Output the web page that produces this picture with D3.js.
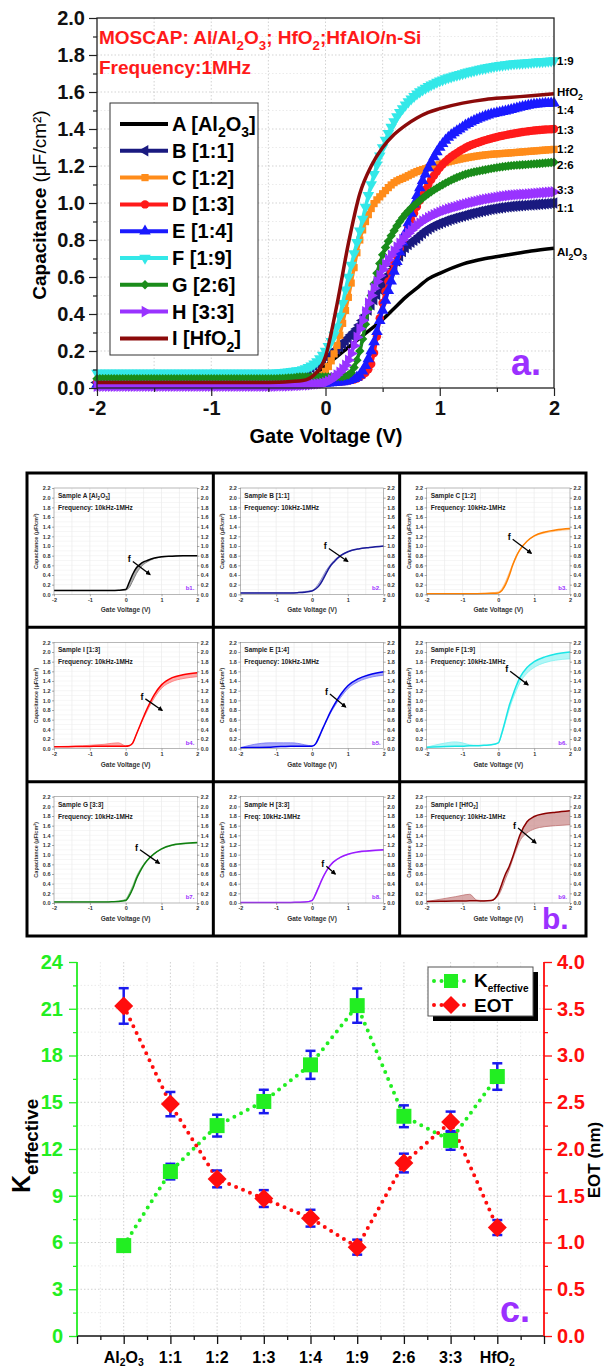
<!DOCTYPE html>
<html>
<head>
<meta charset="utf-8">
<script src="https://cdn.jsdelivr.net/npm/d3@7"></script>
<style>
  body { margin: 0; background: #fff; }
  svg { display: block; font-family: Arial, "Liberation Sans", sans-serif; }
</style>
</head>
<body>
<script>
// ---------- panel a : C-V at 1 MHz ----------
var voltA = [-2, -1, -0.5, -0.3, -0.2, -0.1, 0, 0.1, 0.2, 0.3, 0.4, 0.5, 0.6, 0.7, 0.8, 0.9, 1.0, 1.2, 1.4, 1.6, 1.8, 2.0];
var capA = [0.02, 0.02, 0.025, 0.03, 0.04, 0.07, 0.12, 0.17, 0.22, 0.27, 0.32, 0.37, 0.43, 0.49, 0.54, 0.59, 0.62, 0.67, 0.70, 0.72, 0.74, 0.755];
var capB = [0.03, 0.03, 0.035, 0.05, 0.08, 0.12, 0.17, 0.21, 0.27, 0.34, 0.45, 0.56, 0.66, 0.76, 0.81, 0.86, 0.89, 0.93, 0.96, 0.98, 0.99, 1.0];
var capC = [0.02, 0.02, 0.02, 0.025, 0.03, 0.04, 0.09, 0.23, 0.49, 0.8, 0.97, 1.05, 1.11, 1.14, 1.17, 1.19, 1.21, 1.24, 1.26, 1.27, 1.28, 1.29];
var capD = [0.03, 0.03, 0.03, 0.03, 0.03, 0.03, 0.03, 0.035, 0.04, 0.06, 0.13, 0.46, 0.67, 0.83, 0.98, 1.1, 1.19, 1.29, 1.34, 1.37, 1.39, 1.40];
var capE = [0.02, 0.02, 0.02, 0.02, 0.02, 0.02, 0.025, 0.03, 0.04, 0.07, 0.2, 0.42, 0.63, 0.84, 1.04, 1.19, 1.3, 1.41, 1.47, 1.5, 1.53, 1.54];
var capF = [0.08, 0.08, 0.08, 0.09, 0.1, 0.13, 0.2, 0.33, 0.6, 0.85, 1.1, 1.3, 1.44, 1.53, 1.59, 1.63, 1.66, 1.7, 1.73, 1.75, 1.76, 1.77];
var capG = [0.05, 0.05, 0.05, 0.055, 0.06, 0.06, 0.06, 0.06, 0.07, 0.2, 0.5, 0.72, 0.85, 0.94, 1.0, 1.05, 1.09, 1.15, 1.18, 1.2, 1.21, 1.22];
var capH = [0.01, 0.01, 0.01, 0.012, 0.015, 0.02, 0.03, 0.07, 0.15, 0.32, 0.5, 0.64, 0.74, 0.82, 0.88, 0.92, 0.95, 0.99, 1.02, 1.04, 1.05, 1.06];
var capI = [0.03, 0.03, 0.03, 0.035, 0.04, 0.07, 0.17, 0.45, 0.78, 1.05, 1.2, 1.3, 1.37, 1.42, 1.46, 1.49, 1.51, 1.54, 1.56, 1.57, 1.58, 1.59];

var seriesNames = ['A [Al2O3]', 'B [1:1]', 'C [1:2]', 'D [1:3]', 'E [1:4]', 'F [1:9]', 'G [2:6]', 'H [3:3]', 'I [HfO2]'];
var seriesColors = ['#000000', '#1a1a80', '#ff8c1a', '#ff1a1a', '#1a1aff', '#33e8e8', '#1a8c1a', '#9933ff', '#8b0a0a'];
var seriesMarkers = ['none', 'triL', 'square', 'circle', 'triU', 'triD', 'diamond', 'triR', 'none'];
var endLabels = ['Al2O3', '1:1', '1:2', '1:3', '1:4', '1:9', '2:6', '3:3', 'HfO2'];
var endLabelDy = [4, 5, 0, 1, 7, 0, 3, -2, -2];

// ---------- panel b : frequency dispersion ----------
var voltB = [-2, -1.6, -1.2, -1, -0.8, -0.6, -0.4, -0.2, 0, 0.1, 0.2, 0.3, 0.4, 0.5, 0.6, 0.8, 1.0, 1.3, 1.6, 2.0];
var sampleTitles = ['Sample A [Al2O3]', 'Sample B [1:1]', 'Sample C [1:2]', 'Sample I [1:3]', 'Sample E [1:4]',
  'Sample F [1:9]', 'Sample G [3:3]', 'Sample H [3:3]', 'Sample I [HfO2]'];
var sampleFreq = ['Frequency: 10kHz-1MHz', 'Frequency: 10kHz-1MHz', 'Frequency: 10kHz-1MHz', 'Frequency: 10kHz-1MHz',
  'Frequency: 10kHz-1MHz', 'Frequency: 10kHz-1MHz', 'Frequency: 10kHz-1MHz', 'Freq: 10kHz-1MHz', 'Frequency: 10kHz-1MHz'];
var sampleColors = ['#000000', '#1a1a99', '#ff8000', '#ff0000', '#0000ee', '#1ae6e6', '#0f800f', '#9a1aff', '#8b0000'];
var sampleLabels = ['b1.', 'b2.', 'b3.', 'b4.', 'b5.', 'b6.', 'b7.', 'b8.', 'b9.'];
var darkCurves = [
  [0.08, 0.08, 0.08, 0.08, 0.08, 0.08, 0.08, 0.085, 0.1, 0.25, 0.42, 0.55, 0.62, 0.67, 0.7, 0.75, 0.78, 0.79, 0.8, 0.8],
  [0.03, 0.03, 0.03, 0.03, 0.03, 0.03, 0.035, 0.045, 0.07, 0.11, 0.18, 0.3, 0.44, 0.57, 0.66, 0.8, 0.88, 0.94, 0.97, 1.0],
  [0.01, 0.01, 0.01, 0.01, 0.01, 0.012, 0.015, 0.02, 0.03, 0.08, 0.2, 0.38, 0.6, 0.78, 0.92, 1.1, 1.21, 1.29, 1.33, 1.36],
  [0.04, 0.04, 0.045, 0.045, 0.05, 0.05, 0.05, 0.05, 0.05, 0.06, 0.12, 0.3, 0.48, 0.66, 0.83, 1.12, 1.32, 1.47, 1.53, 1.57],
  [0.02, 0.025, 0.03, 0.04, 0.045, 0.05, 0.05, 0.05, 0.05, 0.1, 0.25, 0.42, 0.58, 0.74, 0.88, 1.12, 1.3, 1.45, 1.53, 1.59],
  [0.03, 0.04, 0.05, 0.05, 0.06, 0.06, 0.07, 0.08, 0.12, 0.33, 0.6, 0.88, 1.1, 1.3, 1.47, 1.68, 1.8, 1.9, 1.96, 2.0],
  [0.02, 0.02, 0.02, 0.02, 0.02, 0.02, 0.025, 0.03, 0.05, 0.15, 0.3, 0.5, 0.65, 0.78, 0.88, 1.02, 1.12, 1.2, 1.23, 1.25],
  [0.01, 0.01, 0.01, 0.01, 0.01, 0.01, 0.015, 0.02, 0.05, 0.18, 0.35, 0.52, 0.66, 0.77, 0.85, 0.95, 1.01, 1.06, 1.08, 1.1],
  [0.03, 0.035, 0.04, 0.04, 0.045, 0.045, 0.04, 0.05, 0.2, 0.4, 0.6, 0.75, 0.95, 1.18, 1.4, 1.68, 1.79, 1.85, 1.88, 1.91]
];
var lightCurves = [
  [0.08, 0.08, 0.08, 0.08, 0.08, 0.08, 0.08, 0.08, 0.09, 0.14, 0.28, 0.43, 0.54, 0.62, 0.67, 0.74, 0.77, 0.79, 0.8, 0.8],
  [0.03, 0.03, 0.03, 0.03, 0.03, 0.03, 0.04, 0.06, 0.08, 0.14, 0.24, 0.37, 0.5, 0.6, 0.69, 0.81, 0.88, 0.94, 0.97, 0.99],
  [0.01, 0.01, 0.01, 0.01, 0.01, 0.012, 0.015, 0.03, 0.05, 0.12, 0.26, 0.44, 0.63, 0.8, 0.93, 1.1, 1.2, 1.27, 1.31, 1.34],
  [0.04, 0.05, 0.06, 0.07, 0.08, 0.09, 0.11, 0.12, 0.06, 0.07, 0.13, 0.3, 0.47, 0.63, 0.78, 1.05, 1.25, 1.39, 1.45, 1.49],
  [0.02, 0.09, 0.12, 0.12, 0.12, 0.12, 0.11, 0.08, 0.06, 0.09, 0.22, 0.4, 0.56, 0.71, 0.84, 1.06, 1.24, 1.39, 1.47, 1.52],
  [0.03, 0.1, 0.14, 0.12, 0.08, 0.07, 0.07, 0.08, 0.12, 0.3, 0.55, 0.8, 1.02, 1.2, 1.36, 1.56, 1.68, 1.78, 1.83, 1.86],
  [0.02, 0.02, 0.02, 0.02, 0.02, 0.02, 0.025, 0.04, 0.08, 0.2, 0.36, 0.55, 0.69, 0.8, 0.89, 1.02, 1.11, 1.19, 1.22, 1.24],
  [0.01, 0.01, 0.01, 0.01, 0.01, 0.01, 0.015, 0.02, 0.06, 0.2, 0.37, 0.53, 0.66, 0.76, 0.84, 0.94, 1.0, 1.05, 1.07, 1.09],
  [0.03, 0.08, 0.13, 0.16, 0.18, 0.06, 0.05, 0.05, 0.15, 0.3, 0.5, 0.68, 0.9, 1.1, 1.28, 1.45, 1.53, 1.58, 1.6, 1.62]
];
// f-arrow: [V start, C start, V end, C end]
var freqArrows = [[0.2, 0.68, 0.68, 0.41], [0.47, 0.95, 1.0, 0.68], [0.4, 1.14, 0.92, 0.85],
  [0.55, 1.03, 1.02, 0.79], [0.5, 1.13, 0.94, 0.86], [0.33, 1.6, 0.83, 1.32],
  [0.4, 1.1, 0.94, 0.82], [0.4, 0.76, 0.65, 0.6], [0.55, 1.55, 1.05, 1.24]];

// ---------- panel c : K effective and EOT ----------
var categories = ['Al2O3', '1:1', '1:2', '1:3', '1:4', '1:9', '2:6', '3:3', 'HfO2'];
var kEff = [5.8, 10.55, 13.5, 15.05, 17.4, 21.2, 14.1, 12.55, 16.65];
var kErr = [0.35, 0.5, 0.7, 0.75, 0.9, 1.1, 0.7, 0.6, 0.85];
var eot = [3.53, 2.48, 1.68, 1.47, 1.26, 0.95, 1.85, 2.29, 1.16];
var eotErr = [0.19, 0.13, 0.09, 0.09, 0.09, 0.08, 0.1, 0.11, 0.08];

var purple = '#9b30ff',
  greenC = '#22ee22',
  redC = '#ff0d0d',
  svg = d3.select('body').append('svg').attr('width', 605).attr('height', 1371);

svg.append('rect').attr('width', 605).attr('height', 1371).attr('fill', '#fff');
svg.append('defs').append('marker').attr('id', 'arr').attr('viewBox', '0 0 10 10')
  .attr('refX', 8).attr('refY', 5).attr('markerWidth', 4).attr('markerHeight', 4).attr('orient', 'auto')
  .append('path').attr('d', 'M0,0L10,5L0,10z').attr('fill', '#000');

// digits right after a letter become subscripts
function chem(s) {
  var parts = [], buf = '';
  for (var i = 0; i < s.length; i++) {
    if (/\d/.test(s[i]) && i > 0 && /[A-Za-z]/.test(s[i - 1])) {
      if (buf) parts.push([buf]);
      buf = '';
      parts.push([s[i], 'sub']);
    } else buf += s[i];
  }
  if (buf) parts.push([buf]);
  return parts;
}

function rich(sel, parts, fs, subScale, subShift) {
  var shift = 0;
  subScale = subScale || 0.7;
  subShift = subShift || 0.32;
  parts.forEach(function(p) {
    var target = p[1] === 'sub' ? fs * subShift : 0,
      t = sel.append('tspan').attr('dy', target - shift).text(p[0]);
    if (p[1]) t.attr('font-size', fs * subScale);
    shift = target;
  });
  return sel;
}

function markerPath(type) {
  if (type === 'square') return {d: d3.symbol(d3.symbolSquare, 52)(), rot: 0};
  if (type === 'circle') return {d: d3.symbol(d3.symbolCircle, 56)(), rot: 0};
  if (type === 'diamond') return {d: d3.symbol(d3.symbolSquare, 44)(), rot: 45};
  var rot = {triU: 0, triR: 90, triD: 180, triL: -90}[type];
  return {d: d3.symbol(d3.symbolTriangle, 58)(), rot: rot};
}

function pointAtX(node, px) {
  var lo = 0, hi = node.getTotalLength(), k, mid;
  for (k = 0; k < 28; k++) {
    mid = (lo + hi) / 2;
    if (node.getPointAtLength(mid).x < px) lo = mid;
    else hi = mid;
  }
  return node.getPointAtLength((lo + hi) / 2);
}

// =================== panel a ===================
(function() {
  var ax = d3.scaleLinear([-2, 2], [97, 554]),
    ay = d3.scaleLinear([0, 2], [388, 18]),
    g = svg.append('g'),
    caps = [capA, capB, capC, capD, capE, capF, capG, capH, capI],
    line = d3.line().x(function(d) { return ax(d[0]); }).y(function(d) { return ay(d[1]); }).curve(d3.curveMonotoneX);

  g.selectAll('.gx').data(d3.range(-1.5, 2, 0.5)).join('line')
    .attr('x1', ax).attr('x2', ax).attr('y1', 18).attr('y2', 388)
    .attr('stroke', '#c8c8c8').attr('stroke-dasharray', '1.5,2').attr('stroke-width', 0.8);
  g.selectAll('.gy').data(d3.range(1, 20).map(function(i) { return i / 10; })).join('line')
    .attr('x1', 97).attr('x2', 554).attr('y1', ay).attr('y2', ay)
    .attr('stroke', function(d, i) { return i % 2 ? '#c8c8c8' : '#e6e6e6'; })
    .attr('stroke-dasharray', '1.5,2').attr('stroke-width', 0.8);

  caps.forEach(function(vals, si) {
    var pts = voltA.map(function(v, i) { return [v, vals[i]]; }),
      col = seriesColors[si],
      path = g.append('path').datum(pts).attr('d', line).attr('fill', 'none')
        .attr('stroke', col).attr('stroke-width', 3.5),
      mk, node;
    if (seriesMarkers[si] === 'none') return;
    mk = markerPath(seriesMarkers[si]);
    node = path.node();
    g.append('g').selectAll('path').data(d3.range(-2, 2.0001, 0.025)).join('path')
      .attr('d', mk.d).attr('fill', col)
      .attr('transform', function(v) {
        var p = pointAtX(node, ax(v));
        return 'translate(' + p.x + ',' + p.y + ') rotate(' + mk.rot + ')';
      });
  });

  g.append('rect').attr('x', 97).attr('y', 18).attr('width', 457).attr('height', 370)
    .attr('fill', 'none').attr('stroke', '#222').attr('stroke-width', 1.3);

  var yAxis = g.append('g').attr('transform', 'translate(97,0)')
    .call(d3.axisLeft(ay).tickValues(d3.range(0, 11).map(function(i) { return i / 5; }))
      .tickFormat(d3.format('.1f')).tickSize(8).tickPadding(4));
  g.append('g').attr('transform', 'translate(97,0)')
    .call(d3.axisLeft(ay).tickValues(d3.range(0, 10).map(function(i) { return i / 5 + 0.1; })).tickFormat('').tickSize(4));
  var xAxis = g.append('g').attr('transform', 'translate(0,388)')
    .call(d3.axisBottom(ax).tickValues([-2, -1, 0, 1, 2]).tickFormat(function(d) { return String(d); }).tickSize(8).tickPadding(5));
  g.append('g').attr('transform', 'translate(0,388)')
    .call(d3.axisBottom(ax).tickValues([-1.5, -0.5, 0.5, 1.5]).tickFormat('').tickSize(4));
  g.selectAll('.domain').remove();
  g.selectAll('.tick line').attr('stroke', '#222').attr('stroke-width', 1.2);
  [yAxis, xAxis].forEach(function(a) {
    a.selectAll('text').attr('font-size', 20).attr('font-weight', 'bold').attr('fill', '#111')
      .attr('font-family', 'Arial, "Liberation Sans", sans-serif');
  });

  var yl = g.append('text').attr('transform', 'translate(46,205) rotate(-90)').attr('text-anchor', 'middle')
    .attr('font-size', 19).attr('font-weight', 'bold');
  yl.append('tspan').text('Capacitance ');
  yl.append('tspan').attr('font-weight', 'normal').text('(μF/cm²)');
  g.append('text').attr('x', 326).attr('y', 443).attr('text-anchor', 'middle')
    .attr('font-size', 20).attr('font-weight', 'bold').text('Gate Voltage (V)');

  rich(g.append('text').attr('x', 99).attr('y', 44).attr('fill', '#ff1a1a').attr('font-size', 19).attr('font-weight', 'bold'),
    chem('MOSCAP: Al/Al2O3; HfO2;HfAlO/n-Si'), 19);
  g.append('text').attr('x', 99).attr('y', 74).attr('fill', '#ff1a1a').attr('font-size', 19).attr('font-weight', 'bold')
    .text('Frequency:1MHz');

  // legend
  var lg = g.append('g');
  lg.append('rect').attr('x', 110).attr('y', 103).attr('width', 148).attr('height', 252)
    .attr('fill', '#fff').attr('stroke', '#333').attr('stroke-width', 1);
  seriesNames.forEach(function(name, i) {
    var y = 124 + i * 26.8, mk;
    lg.append('line').attr('x1', 120).attr('x2', 168).attr('y1', y).attr('y2', y)
      .attr('stroke', seriesColors[i]).attr('stroke-width', 4);
    if (seriesMarkers[i] !== 'none') {
      mk = markerPath(seriesMarkers[i]);
      lg.append('path').attr('d', mk.d).attr('fill', seriesColors[i])
        .attr('transform', 'translate(145,' + y + ') rotate(' + mk.rot + ')');
    }
    rich(lg.append('text').attr('x', 172).attr('y', y + 7).attr('font-size', 20).attr('font-weight', 'bold'), chem(name), 20);
  });

  // end labels
  endLabels.forEach(function(lab, i) {
    rich(g.append('text').attr('x', 557).attr('y', ay(caps[i][caps[i].length - 1]) + 4 + endLabelDy[i])
      .attr('font-size', 11.5).attr('font-weight', 'bold'), chem(lab), 11.5, 0.75);
  });

  g.append('text').attr('x', 511).attr('y', 375).attr('font-size', 36).attr('font-weight', 'bold')
    .attr('fill', purple).text('a.');
})();

// =================== panel b ===================
(function() {
  var x0 = 27, y0 = 473, cw = (586 - 27) / 3, ch = (936 - 473) / 3,
    g = svg.append('g');

  sampleTitles.forEach(function(title, i) {
    var cx = x0 + (i % 3) * cw, cy = y0 + Math.floor(i / 3) * ch,
      l = cx + 27, r = cx + cw - 16, t = cy + 15, b = cy + ch - 33,
      sx = d3.scaleLinear([-2, 2], [l, r]),
      sy = d3.scaleLinear([0, 2.2], [b, t]),
      sg = g.append('g'),
      col = sampleColors[i],
      light = d3.interpolateRgb(col, '#fff')(0.45),
      dark = voltB.map(function(v, k) { return [v, darkCurves[i][k]]; }),
      lite = voltB.map(function(v, k) { return [v, lightCurves[i][k]]; }),
      line = d3.line().x(function(d) { return sx(d[0]); }).y(function(d) { return sy(d[1]); }).curve(d3.curveMonotoneX),
      area = d3.area().x(function(d) { return sx(d[0]); }).y0(function(d, k) { return sy(lightCurves[i][k]); })
        .y1(function(d) { return sy(d[1]); }).curve(d3.curveMonotoneX),
      ar = freqArrows[i], axL, axR, axB;

    sg.selectAll('.gx').data(d3.range(-1.5, 2, 0.5)).join('line')
      .attr('x1', sx).attr('x2', sx).attr('y1', t).attr('y2', b).attr('stroke', '#e2e2e2').attr('stroke-width', 0.5);
    sg.selectAll('.gy').data(d3.range(1, 22).map(function(k) { return k / 10; })).join('line')
      .attr('x1', l).attr('x2', r).attr('y1', sy).attr('y2', sy).attr('stroke', '#ececec').attr('stroke-width', 0.5);

    sg.append('path').datum(dark).attr('d', area).attr('fill', light).attr('opacity', 0.6);
    sg.append('path').datum(lite).attr('d', line).attr('fill', 'none').attr('stroke', light).attr('stroke-width', 0.8);
    sg.append('path').datum(dark).attr('d', line).attr('fill', 'none').attr('stroke', col).attr('stroke-width', 1.5);

    sg.append('rect').attr('x', l).attr('y', t).attr('width', r - l).attr('height', b - t)
      .attr('fill', 'none').attr('stroke', '#888').attr('stroke-width', 0.6);

    var yt = d3.range(0, 12).map(function(k) { return k / 5; });
    axL = sg.append('g').attr('transform', 'translate(' + l + ',0)')
      .call(d3.axisLeft(sy).tickValues(yt).tickFormat(d3.format('.1f')).tickSize(2).tickPadding(1.5));
    axR = sg.append('g').attr('transform', 'translate(' + r + ',0)')
      .call(d3.axisRight(sy).tickValues(yt).tickFormat(d3.format('.1f')).tickSize(2).tickPadding(1.5));
    axB = sg.append('g').attr('transform', 'translate(0,' + b + ')')
      .call(d3.axisBottom(sx).tickValues([-2, -1, 0, 1, 2]).tickFormat(function(d) { return String(d); }).tickSize(2).tickPadding(1.5));
    sg.selectAll('.domain').remove();
    sg.selectAll('.tick line').attr('stroke', '#555').attr('stroke-width', 0.5);
    [axL, axR, axB].forEach(function(a) {
      a.selectAll('text').attr('font-size', 5.5).attr('font-weight', 'bold').attr('fill', '#333')
        .attr('font-family', 'Arial, "Liberation Sans", sans-serif');
    });

    rich(sg.append('text').attr('x', l + 4).attr('y', t + 10).attr('font-size', 6.5).attr('font-weight', 'bold').attr('fill', '#222'),
      chem(title), 6.5);
    sg.append('text').attr('x', l + 4).attr('y', t + 22).attr('font-size', 6.5).attr('font-weight', 'bold').attr('fill', '#222')
      .text(sampleFreq[i]);
    sg.append('text').attr('transform', 'translate(' + (cx + 11) + ',' + ((t + b) / 2) + ') rotate(-90)')
      .attr('text-anchor', 'middle').attr('font-size', 5.5).attr('font-weight', 'bold').attr('fill', '#333')
      .text('Capacitance (μF/cm²)');
    sg.append('text').attr('x', (l + r) / 2).attr('y', b + 18).attr('text-anchor', 'middle')
      .attr('font-size', 6.5).attr('font-weight', 'bold').attr('fill', '#333').text('Gate Voltage (V)');

    sg.append('line').attr('x1', sx(ar[0])).attr('y1', sy(ar[1])).attr('x2', sx(ar[2])).attr('y2', sy(ar[3]))
      .attr('stroke', '#000').attr('stroke-width', 1.3).attr('marker-end', 'url(#arr)');
    sg.append('text').attr('x', sx(ar[0]) - 2).attr('y', sy(ar[1]) + 1).attr('text-anchor', 'end')
      .attr('font-size', 9).attr('font-weight', 'bold').text('f');
    sg.append('text').attr('x', r - 3).attr('y', b - 4).attr('text-anchor', 'end')
      .attr('font-size', 6).attr('font-weight', 'bold').attr('fill', purple).text(sampleLabels[i]);
  });

  g.append('rect').attr('x', x0).attr('y', y0).attr('width', 3 * cw).attr('height', 3 * ch)
    .attr('fill', 'none').attr('stroke', '#000').attr('stroke-width', 3);
  [1, 2].forEach(function(k) {
    g.append('line').attr('x1', x0 + k * cw).attr('x2', x0 + k * cw).attr('y1', y0).attr('y2', y0 + 3 * ch)
      .attr('stroke', '#000').attr('stroke-width', 3);
    g.append('line').attr('x1', x0).attr('x2', x0 + 3 * cw).attr('y1', y0 + k * ch).attr('y2', y0 + k * ch)
      .attr('stroke', '#000').attr('stroke-width', 3);
  });
  g.append('text').attr('x', 542).attr('y', 929).attr('font-size', 30).attr('font-weight', 'bold')
    .attr('fill', purple).text('b.');
})();

// =================== panel c ===================
(function() {
  var cx = d3.scaleLinear([0, 10], [77, 544]),
    ky = d3.scaleLinear([0, 24], [1336, 962]),
    ey = d3.scaleLinear([0, 4], [1336, 962]),
    g = svg.append('g'),
    idx = d3.range(1, categories.length + 1);

  g.selectAll('.gx').data(d3.range(1, 20).map(function(k) { return k / 2; })).join('line')
    .attr('x1', cx).attr('x2', cx).attr('y1', 962).attr('y2', 1336)
    .attr('stroke', function(d) { return d % 1 ? '#e4e4e4' : '#c4c4c4'; }).attr('stroke-dasharray', '1.5,2').attr('stroke-width', 0.8);
  g.selectAll('.gy').data(d3.range(1, 16).map(function(k) { return k * 1.5; })).join('line')
    .attr('x1', 77).attr('x2', 544).attr('y1', ky).attr('y2', ky)
    .attr('stroke', function(d) { return d % 3 ? '#e4e4e4' : '#c4c4c4'; }).attr('stroke-dasharray', '1.5,2').attr('stroke-width', 0.8);

  // axes
  var la = g.append('g').attr('class', 'lax').attr('transform', 'translate(77,0)')
    .call(d3.axisLeft(ky).tickValues(d3.range(0, 25, 3)).tickSize(8).tickPadding(6));
  g.append('g').attr('class', 'lax').attr('transform', 'translate(77,0)')
    .call(d3.axisLeft(ky).tickValues(d3.range(1.5, 24, 3)).tickFormat('').tickSize(4));
  var ra = g.append('g').attr('class', 'rax').attr('transform', 'translate(544,0)')
    .call(d3.axisRight(ey).tickValues(d3.range(0, 9).map(function(k) { return k / 2; })).tickFormat(d3.format('.1f')).tickSize(8).tickPadding(5));
  g.append('g').attr('class', 'rax').attr('transform', 'translate(544,0)')
    .call(d3.axisRight(ey).tickValues(d3.range(0, 8).map(function(k) { return k / 2 + 0.25; })).tickFormat('').tickSize(4));
  g.append('g').attr('transform', 'translate(0,1336)')
    .call(d3.axisBottom(cx).tickValues(d3.range(0, 11)).tickFormat('').tickSize(8));
  g.append('g').attr('transform', 'translate(0,1336)')
    .call(d3.axisBottom(cx).tickValues(d3.range(0, 10).map(function(k) { return k + 0.5; })).tickFormat('').tickSize(4));
  g.selectAll('.domain').remove();
  g.selectAll('.tick line').attr('stroke', '#111').attr('stroke-width', 1.3);
  g.selectAll('.lax .tick line').attr('stroke', greenC);
  g.selectAll('.rax .tick line').attr('stroke', redC);
  la.selectAll('text').attr('fill', greenC);
  ra.selectAll('text').attr('fill', redC);
  [la, ra].forEach(function(a) {
    a.selectAll('text').attr('font-size', 20).attr('font-weight', 'bold').attr('font-family', 'Arial, "Liberation Sans", sans-serif');
  });
  g.append('line').attr('x1', 77).attr('x2', 544).attr('y1', 1336).attr('y2', 1336).attr('stroke', '#111').attr('stroke-width', 1.5);
  g.append('line').attr('x1', 77).attr('x2', 77).attr('y1', 962).attr('y2', 1336).attr('stroke', greenC).attr('stroke-width', 1.8);
  g.append('line').attr('x1', 544).attr('x2', 544).attr('y1', 962).attr('y2', 1336).attr('stroke', redC).attr('stroke-width', 1.8);

  categories.forEach(function(c, i) {
    rich(g.append('text').attr('x', cx(i + 1)).attr('y', 1363).attr('text-anchor', 'middle')
      .attr('font-size', 16).attr('font-weight', 'bold'), chem(c), 16, 0.65, 0.2);
  });

  // dotted connecting lines
  var kLine = d3.line().x(function(d, i) { return cx(i + 1); }).y(function(d) { return ky(d); }),
    eLine = d3.line().x(function(d, i) { return cx(i + 1); }).y(function(d) { return ey(d); });
  g.append('path').datum(kEff).attr('d', kLine).attr('fill', 'none').attr('stroke', greenC)
    .attr('stroke-width', 4).attr('stroke-linecap', 'round').attr('stroke-dasharray', '0,7.5');
  g.append('path').datum(eot).attr('d', eLine).attr('fill', 'none').attr('stroke', redC)
    .attr('stroke-width', 4).attr('stroke-linecap', 'round').attr('stroke-dasharray', '0,7.5');

  // error bars
  function errBars(vals, errs, scale) {
    var eg = g.append('g').attr('stroke', '#1a1aee').attr('stroke-width', 2.5);
    vals.forEach(function(v, i) {
      var x = cx(idx[i]);
      eg.append('line').attr('x1', x).attr('x2', x).attr('y1', scale(v - errs[i])).attr('y2', scale(v + errs[i]));
      [v - errs[i], v + errs[i]].forEach(function(e) {
        eg.append('line').attr('x1', x - 5).attr('x2', x + 5).attr('y1', scale(e)).attr('y2', scale(e));
      });
    });
  }
  errBars(kEff, kErr, ky);
  errBars(eot, eotErr, ey);

  g.selectAll('.ksq').data(kEff).join('rect')
    .attr('x', function(d, i) { return cx(i + 1) - 7.5; }).attr('y', function(d) { return ky(d) - 7.5; })
    .attr('width', 15).attr('height', 15).attr('fill', greenC);
  g.selectAll('.edm').data(eot).join('path')
    .attr('d', 'M0,-9.5L9.5,0L0,9.5L-9.5,0Z').attr('fill', redC)
    .attr('transform', function(d, i) { return 'translate(' + cx(i + 1) + ',' + ey(d) + ')'; });

  // legend
  var lg = g.append('g');
  lg.append('rect').attr('x', 433).attr('y', 972).attr('width', 105).attr('height', 49).attr('fill', '#000');
  lg.append('rect').attr('x', 428).attr('y', 967).attr('width', 105).attr('height', 49)
    .attr('fill', '#fff').attr('stroke', '#555').attr('stroke-width', 1);
  [[981, greenC, 'sq'], [1005, redC, 'dm']].forEach(function(row) {
    lg.append('line').attr('x1', 434).attr('x2', 470).attr('y1', row[0]).attr('y2', row[0])
      .attr('stroke', row[1]).attr('stroke-width', 4).attr('stroke-linecap', 'round').attr('stroke-dasharray', '0,7.5');
    if (row[2] === 'sq') lg.append('rect').attr('x', 444).attr('y', row[0] - 7).attr('width', 14).attr('height', 14).attr('fill', row[1]);
    else lg.append('path').attr('d', 'M0,-9L9,0L0,9L-9,0Z').attr('fill', row[1]).attr('transform', 'translate(451,' + row[0] + ')');
  });
  rich(lg.append('text').attr('x', 474).attr('y', 987).attr('font-size', 19).attr('font-weight', 'bold'),
    [['K'], ['effective', 'sub']], 19, 0.53, 0.28);
  lg.append('text').attr('x', 474).attr('y', 1012).attr('font-size', 19).attr('font-weight', 'bold').text('EOT');

  rich(g.append('text').attr('transform', 'translate(30,1146) rotate(-90)').attr('text-anchor', 'middle')
    .attr('font-size', 25).attr('font-weight', 'bold'), [['K'], ['effective', 'sub']], 25, 0.75);
  g.append('text').attr('transform', 'translate(600,1160) rotate(-90)').attr('text-anchor', 'middle')
    .attr('font-size', 17).attr('font-weight', 'bold').text('EOT (nm)');

  g.append('text').attr('x', 500).attr('y', 1322).attr('font-size', 36).attr('font-weight', 'bold')
    .attr('fill', purple).text('c.');
})();
</script>
</body>
</html>
